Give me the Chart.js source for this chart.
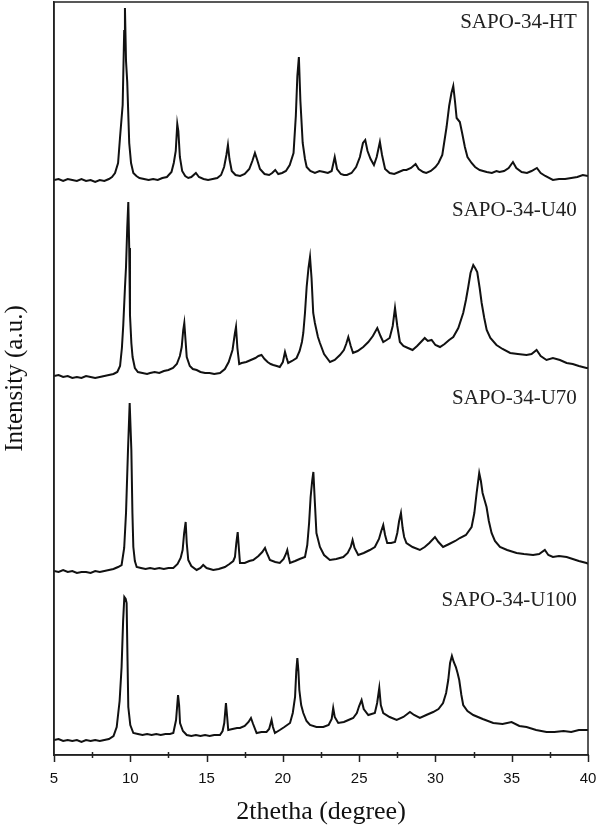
<!DOCTYPE html>
<html>
<head>
<meta charset="utf-8">
<script src="https://cdn.jsdelivr.net/npm/chart.js@4.4.1/dist/chart.umd.min.js"></script>
<style>
  html, body { margin: 0; padding: 0; background: #fff; }
  #xrd { display: block; }
</style>
</head>
<body>
<canvas id="xrd" width="600" height="830"></canvas>
<script>
// sample names, top to bottom
const samples = ["SAPO-34-HT", "SAPO-34-U40", "SAPO-34-U70", "SAPO-34-U100"];

// vertical stacking offsets (a.u.)
const offsets = [574, 377, 182, 14];

// x ticks (2theta, degree)
const xTicks = [5, 10, 15, 20, 25, 30, 35, 40];

// intensity, [2theta, counts above baseline]
const htData = [
  [5,1],[5.3,2],[5.6,0],[5.9,2],[6.2,1],[6.5,0],[6.8,2],[7.1,0],[7.4,1],[7.7,-1],[8.0,1],[8.3,0],[8.6,2],[8.8,4],
  [9.0,8],[9.2,18],[9.33,44],[9.5,76],[9.6,150],[9.65,173],[9.72,120],[9.8,99],[9.93,38],[10.05,18],[10.2,8],
  [10.4,5],[10.6,3],[10.9,2],[11.2,1],[11.5,2],[11.8,1],[12.1,3],[12.4,4],[12.7,9],[12.85,18],[12.98,30],
  [13.08,57],[13.15,50],[13.25,24],[13.4,10],[13.6,5],[13.8,3],[14.0,4],[14.3,8],[14.5,4],[14.8,2],[15.1,1],
  [15.4,2],[15.7,3],[15.95,6],[16.15,14],[16.3,26],[16.4,36],[16.5,22],[16.65,10],[16.9,6],[17.2,5],[17.5,7],
  [17.8,12],[18.0,20],[18.17,28],[18.3,22],[18.5,12],[18.8,7],[19.1,6],[19.3,8],[19.5,11],[19.7,7],[19.95,8],
  [20.2,10],[20.45,16],[20.7,28],[20.85,65],[20.95,105],[21.05,124],[21.15,80],[21.3,38],[21.45,22],[21.56,14],
  [21.8,10],[22.1,8],[22.4,10],[22.7,9],[22.95,8],[23.2,10],[23.4,24],[23.55,12],[23.8,7],[24.0,6],[24.2,6],
  [24.5,8],[24.8,14],[25.05,24],[25.25,38],[25.4,41],[25.55,30],[25.75,22],[25.97,16],[26.15,24],[26.36,39],
  [26.5,26],[26.7,12],[27.0,8],[27.3,7],[27.6,9],[27.9,11],[28.1,11],[28.4,13],[28.7,17],[28.9,12],[29.2,9],
  [29.4,8],[29.7,10],[30.0,14],[30.2,18],[30.45,26],[30.73,54],[30.9,75],[31.05,88],[31.17,95],[31.28,80],
  [31.39,63],[31.6,59],[31.75,48],[31.93,34],[32.1,24],[32.37,18],[32.6,14],[32.9,11],[33.36,9],[33.7,8],
  [34.0,10],[34.2,9],[34.5,10],[34.8,13],[35.08,19],[35.3,13],[35.65,9],[36.0,8],[36.3,10],[36.65,13],[36.9,8],
  [37.2,5],[37.7,1],[38.1,2],[38.5,2],[38.9,3],[39.3,4],[39.66,6],[40,5]
];

const u40Data = [
  [5,2],[5.3,3],[5.6,1],[5.9,2],[6.2,0],[6.5,1],[6.8,0],[7.1,2],[7.4,1],[7.7,0],[8.0,1],[8.3,2],[8.6,3],[8.9,4],
  [9.15,6],[9.33,12],[9.45,30],[9.54,53],[9.65,90],[9.72,111],[9.8,150],[9.87,176],[9.93,130],[9.98,63],
  [10.07,35],[10.15,21],[10.3,10],[10.5,6],[10.8,5],[11.1,4],[11.3,5],[11.6,6],[11.9,5],[12.2,7],[12.5,8],
  [12.8,10],[13.05,14],[13.25,22],[13.37,31],[13.47,48],[13.54,55],[13.62,38],[13.7,21],[13.9,12],[14.1,9],
  [14.35,8],[14.6,6],[14.9,5],[15.2,5],[15.5,4],[15.88,5],[16.2,9],[16.45,16],[16.7,28],[16.85,44],[16.93,51],
  [17.02,30],[17.14,14],[17.3,15],[17.6,16],[17.9,18],[18.2,20],[18.4,22],[18.6,23],[18.8,19],[19.0,16],
  [19.2,14],[19.37,13],[19.6,12],[19.8,11],[20.0,16],[20.14,26],[20.25,20],[20.35,15],[20.6,17],[20.9,20],
  [21.1,27],[21.25,36],[21.34,45],[21.45,65],[21.56,91],[21.68,110],[21.78,121],[21.88,100],[21.99,65],
  [22.1,55],[22.3,41],[22.43,35],[22.7,24],[23.09,16],[23.4,18],[23.74,23],[24.0,28],[24.15,34],[24.29,41],
  [24.45,32],[24.6,25],[24.9,27],[25.27,31],[25.6,36],[25.9,42],[26.19,50],[26.4,42],[26.58,36],[26.8,38],
  [27.0,40],[27.2,52],[27.35,70],[27.5,52],[27.67,36],[27.9,32],[28.2,30],[28.5,28],[28.8,32],[29.05,36],
  [29.3,40],[29.5,37],[29.75,38],[30.0,33],[30.3,31],[30.6,34],[30.9,38],[31.17,41],[31.5,50],[31.82,65],
  [32.0,78],[32.15,91],[32.3,105],[32.48,113],[32.6,110],[32.74,106],[32.9,90],[33.03,75],[33.2,60],[33.36,48],
  [33.6,40],[34.0,33],[34.4,29],[34.9,25],[35.4,24],[35.97,23],[36.3,24],[36.63,28],[36.9,22],[37.28,18],
  [37.7,20],[38.16,18],[38.6,15],[39.0,14],[39.4,12],[39.9,10],[40,10]
];

const u70Data = [
  [5,2],[5.3,1],[5.6,3],[5.9,1],[6.2,2],[6.5,0],[6.8,1],[7.1,1],[7.4,0],[7.7,2],[8.0,1],[8.3,2],[8.6,3],[8.9,4],
  [9.2,6],[9.43,8],[9.6,25],[9.72,60],[9.85,123],[9.96,170],[10.07,123],[10.14,60],[10.2,26],[10.3,12],
  [10.42,6],[10.7,5],[11.0,4],[11.3,5],[11.6,4],[11.9,5],[12.2,4],[12.5,5],[12.82,5],[13.1,9],[13.3,15],
  [13.43,23],[13.53,40],[13.63,51],[13.7,30],[13.8,13],[14.0,7],[14.35,3],[14.6,5],[14.78,8],[15.0,5],
  [15.44,3],[15.8,4],[16.2,6],[16.5,9],[16.75,12],[16.86,16],[16.95,30],[17.04,41],[17.12,24],[17.19,10],
  [17.5,10],[17.8,12],[18.06,13],[18.4,17],[18.65,21],[18.83,25],[18.95,20],[19.15,13],[19.5,11],[19.8,10],
  [20.05,14],[20.2,19],[20.29,23],[20.38,16],[20.47,10],[20.8,12],[21.1,14],[21.45,16],[21.6,28],[21.72,50],
  [21.82,76],[21.92,92],[22.0,101],[22.1,70],[22.2,40],[22.43,26],[22.7,18],[23.08,13],[23.5,14],[23.96,16],
  [24.25,20],[24.45,26],[24.57,33],[24.7,25],[24.94,18],[25.3,20],[25.7,23],[26.03,26],[26.3,34],[26.45,42],
  [26.58,48],[26.7,38],[26.84,30],[27.1,30],[27.35,31],[27.5,40],[27.62,52],[27.74,60],[27.85,45],[27.95,36],
  [28.1,30],[28.5,26],[28.98,23],[29.3,26],[29.6,30],[29.97,36],[30.2,31],[30.5,26],[30.9,29],[31.3,32],
  [31.6,35],[32.0,38],[32.37,46],[32.55,60],[32.7,80],[32.87,100],[32.98,92],[33.09,80],[33.2,74],[33.35,66],
  [33.5,52],[33.68,40],[33.9,32],[34.23,26],[34.7,23],[35.32,20],[35.8,19],[36.4,18],[36.8,19],[37.17,23],
  [37.4,18],[37.7,16],[38.1,17],[38.6,16],[39.0,14],[39.4,12],[39.9,10],[40,9]
];

const u100Data = [
  [5,1],[5.3,2],[5.6,0],[5.9,1],[6.2,0],[6.5,1],[6.8,-1],[7.1,1],[7.4,0],[7.7,1],[8.0,0],[8.3,1],[8.6,2],[8.9,5],
  [9.11,14],[9.3,40],[9.43,74],[9.53,120],[9.61,144],[9.7,142],[9.76,138],[9.82,80],[9.87,34],[10.0,16],
  [10.2,8],[10.5,7],[10.8,6],[11.1,7],[11.4,6],[11.7,7],[12.0,6],[12.3,7],[12.6,7],[12.82,8],[13.0,21],
  [13.13,46],[13.2,36],[13.26,18],[13.45,10],[13.7,6],[14.0,5],[14.3,6],[14.6,5],[14.9,6],[15.2,5],[15.5,6],
  [15.88,6],[16.05,10],[16.16,18],[16.27,38],[16.35,24],[16.42,11],[16.7,12],[17.0,13],[17.19,13],[17.5,15],
  [17.75,19],[17.91,23],[18.05,17],[18.28,8],[18.6,9],[18.93,9],[19.1,12],[19.26,21],[19.35,14],[19.48,8],
  [19.8,11],[20.1,14],[20.47,18],[20.65,28],[20.8,44],[20.88,70],[20.95,83],[21.02,70],[21.08,51],[21.2,36],
  [21.34,28],[21.55,20],[21.78,16],[22.2,14],[22.65,14],[23.0,16],[23.2,22],[23.3,33],[23.4,24],[23.63,18],
  [24.0,19],[24.3,21],[24.61,23],[24.85,28],[25.0,35],[25.16,41],[25.3,32],[25.6,26],[26.03,28],[26.18,38],
  [26.32,53],[26.42,36],[26.58,28],[27.0,24],[27.46,21],[27.9,24],[28.33,29],[28.6,26],[28.98,23],[29.4,26],
  [29.85,29],[30.2,32],[30.5,38],[30.7,48],[30.84,61],[30.96,78],[31.08,85],[31.2,79],[31.34,74],[31.45,68],
  [31.56,61],[31.7,46],[31.82,36],[32.1,30],[32.48,26],[33.1,22],[33.79,18],[34.4,17],[34.99,19],[35.5,15],
  [35.97,14],[36.6,11],[37.28,9],[37.8,9],[38.4,10],[38.9,9],[39.4,11],[39.9,11],[40,11]
];

const series = [htData, u40Data, u70Data, u100Data];

const datasets = series.map((s, i) => ({
  label: samples[i],
  data: s.map(p => ({ x: p[0], y: p[1] + offsets[i] })),
  showLine: true,
  borderColor: "#111",
  borderWidth: 2,
  pointRadius: 0,
  tension: 0
}));

// frame, ticks and sample names
const decor = {
  id: "decor",
  afterDraw(chart) {
    const { ctx, chartArea: a } = chart;
    const xs = chart.scales.x, ys = chart.scales.y;
    ctx.save();
    ctx.strokeStyle = "#222";
    ctx.lineWidth = 1.5;
    ctx.strokeRect(a.left, a.top, a.right - a.left, a.bottom - a.top);

    ctx.beginPath();
    for (let v = 5; v <= 40; v += 2.5) {
      const px = Math.round(xs.getPixelForValue(v)) + 0.5;
      if (v % 5 === 0) {
        ctx.moveTo(px, a.bottom);
        ctx.lineTo(px, a.bottom + 7);
      } else {
        ctx.moveTo(px, a.bottom - 3);
        ctx.lineTo(px, a.bottom + 3);
      }
    }
    ctx.stroke();

    // sample labels, right aligned above each trace
    const rise = [159, 168, 175, 141];
    ctx.fillStyle = "#222";
    ctx.font = "21px 'Liberation Serif', 'Times New Roman', serif";
    ctx.textAlign = "right";
    ctx.textBaseline = "middle";
    samples.forEach((name, i) => {
      ctx.fillText(name, xs.getPixelForValue(39.27), ys.getPixelForValue(offsets[i] + rise[i]));
    });
    ctx.restore();
  }
};

new Chart(document.getElementById("xrd"), {
  type: "scatter",
  data: { datasets },
  options: {
    responsive: false,
    animation: false,
    devicePixelRatio: 1,
    layout: { padding: { left: 0, right: 12, top: 2, bottom: 0 } },
    plugins: { legend: { display: false }, tooltip: { enabled: false } },
    scales: {
      x: {
        type: "linear",
        min: 5,
        max: 40,
        afterFit(scale) {
          scale.height = 75;
          scale.paddingLeft = 0;
          scale.paddingRight = 0;
        },
        afterBuildTicks(scale) {
          scale.ticks = xTicks.map(v => ({ value: v }));
        },
        grid: { display: false, drawTicks: false },
        border: { display: true, color: "#222", width: 1.5 },
        ticks: {
          padding: 15,
          color: "#111",
          font: { family: "'Liberation Sans', Arial, sans-serif", size: 15 },
          maxRotation: 0
        },
        title: {
          display: true,
          text: "2thetha (degree)",
          color: "#111",
          padding: { top: 0, bottom: 2 },
          font: { family: "'Liberation Serif', 'Times New Roman', serif", size: 26 }
        }
      },
      y: {
        min: 0,
        max: 753,
        afterFit(scale) { scale.width = 54; },
        grid: { display: false, drawTicks: false },
        border: { display: true, color: "#222", width: 1.5 },
        ticks: { display: false },
        title: {
          display: true,
          text: "Intensity (a.u.)",
          color: "#111",
          padding: { top: 0, bottom: 0 },
          font: { family: "'Liberation Serif', 'Times New Roman', serif", size: 25 }
        }
      }
    }
  },
  plugins: [decor]
});
</script>
</body>
</html>
